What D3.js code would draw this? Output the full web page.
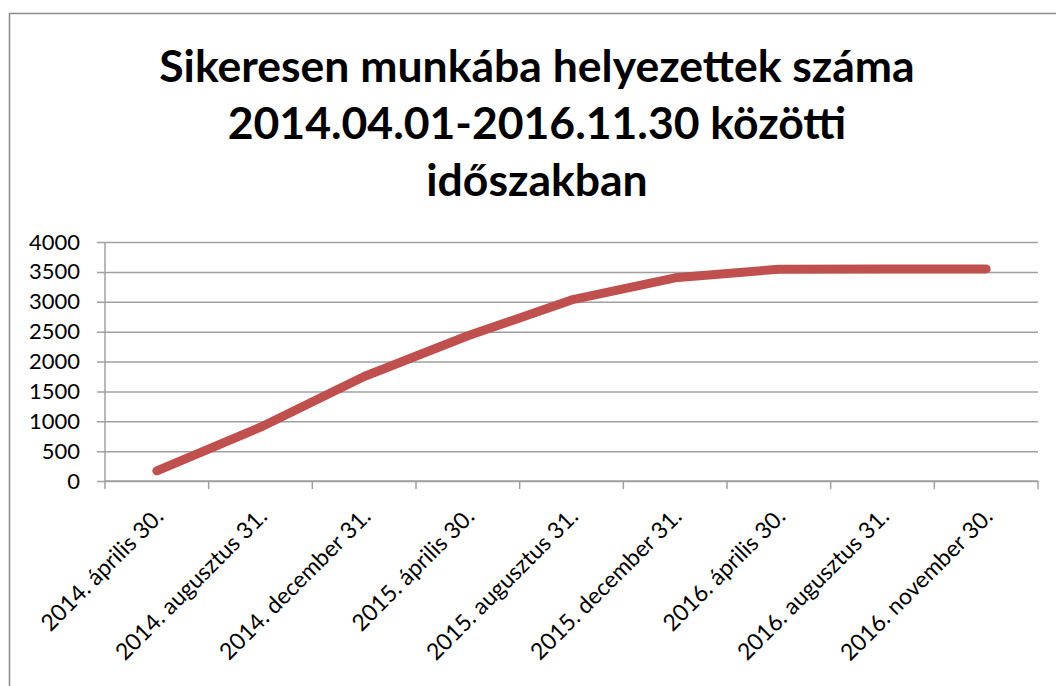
<!DOCTYPE html>
<html>
<head>
<meta charset="utf-8">
<script src="https://cdn.jsdelivr.net/npm/d3@7"></script>
<style>
  body { margin: 0; background: #fff; }
  svg { display: block; font-family: Lato, "Open Sans", sans-serif; }
</style>
</head>
<body>
<div id="chart"></div>
<script>
const titleLines = [
  "Sikeresen munkába helyezettek száma",
  "2014.04.01-2016.11.30 közötti",
  "időszakban"
];
const dates = [
  "2014. április 30.",
  "2014. augusztus 31.",
  "2014. december 31.",
  "2015. április 30.",
  "2015. augusztus 31.",
  "2015. december 31.",
  "2016. április 30.",
  "2016. augusztus 31.",
  "2016. november 30."
];
const placed = [170, 900, 1750, 2430, 3030, 3400, 3545, 3550, 3550];
const yTicks = [0, 500, 1000, 1500, 2000, 2500, 3000, 3500, 4000];

const width = 1056, height = 686;
const margin = { top: 242, right: 18, bottom: 205, left: 105 };
const innerW = width - margin.left - margin.right;
const innerH = height - margin.top - margin.bottom;

const svg = d3.select("#chart").append("svg")
  .attr("width", width)
  .attr("height", height);

// chart frame
svg.append("rect")
  .attr("x", 9.5).attr("y", 13.5)
  .attr("width", width + 20).attr("height", height + 20)
  .attr("fill", "none")
  .attr("stroke", "#8c8c8c")
  .attr("stroke-width", 1.5);

svg.append("text")
  .attr("text-anchor", "middle")
  .attr("font-weight", "bold")
  .attr("font-size", "44.5px")
  .attr("fill", "#000")
  .selectAll("tspan")
  .data(titleLines)
  .join("tspan")
  .attr("x", 537)
  .attr("y", (d, i) => 82 + i * 57)
  .text(d => d);

const g = svg.append("g").attr("transform", `translate(${margin.left},${margin.top})`);

const x = d3.scalePoint().domain(dates).range([0, innerW]).padding(0.5);
const y = d3.scaleLinear().domain([0, 4000]).range([innerH, 0]);

// gridlines + y ticks
g.append("g")
  .call(d3.axisLeft(y).tickValues(yTicks).tickSize(-innerW - 8).tickPadding(25).tickFormat(d3.format("d")))
  .call(s => s.select(".domain").remove())
  .call(s => s.selectAll(".tick line")
    .attr("x1", -8)
    .attr("x2", innerW)
    .attr("stroke", "#a0a0a0")
    .attr("stroke-width", 1.5))
  .call(s => s.selectAll(".tick text")
    .attr("font-size", "22px")
    .attr("fill", "#000")
    .attr("font-family", "Lato, sans-serif"));

// y axis line
g.append("line")
  .attr("x1", 0).attr("x2", 0)
  .attr("y1", 0).attr("y2", innerH)
  .attr("stroke", "#a0a0a0")
  .attr("stroke-width", 1.5);

// x axis with boundary ticks
const step = x.step();
const bounds = d3.range(dates.length + 1).map(i => i * step);
const xAxis = g.append("g").attr("transform", `translate(0,${innerH})`);
xAxis.append("line")
  .attr("x1", 0).attr("x2", innerW)
  .attr("stroke", "#a0a0a0")
  .attr("stroke-width", 1.5);
xAxis.selectAll(".bt")
  .data(bounds)
  .join("line")
  .attr("class", "bt")
  .attr("x1", d => d).attr("x2", d => d)
  .attr("y1", 0).attr("y2", 8)
  .attr("stroke", "#a0a0a0")
  .attr("stroke-width", 1.5);

xAxis.selectAll(".lbl")
  .data(dates)
  .join("text")
  .attr("class", "lbl")
  .attr("text-anchor", "end")
  .attr("font-size", "23px")
  .attr("fill", "#000")
  .attr("transform", d => `translate(${x(d) + 8},${37}) rotate(-45)`)
  .text(d => d);

// line
const line = d3.line()
  .x((d, i) => x(dates[i]))
  .y(d => y(d));

g.append("path")
  .datum(placed)
  .attr("fill", "none")
  .attr("stroke", "#c0504d")
  .attr("stroke-width", 9)
  .attr("stroke-linecap", "round")
  .attr("stroke-linejoin", "round")
  .attr("d", line);
</script>
</body>
</html>
